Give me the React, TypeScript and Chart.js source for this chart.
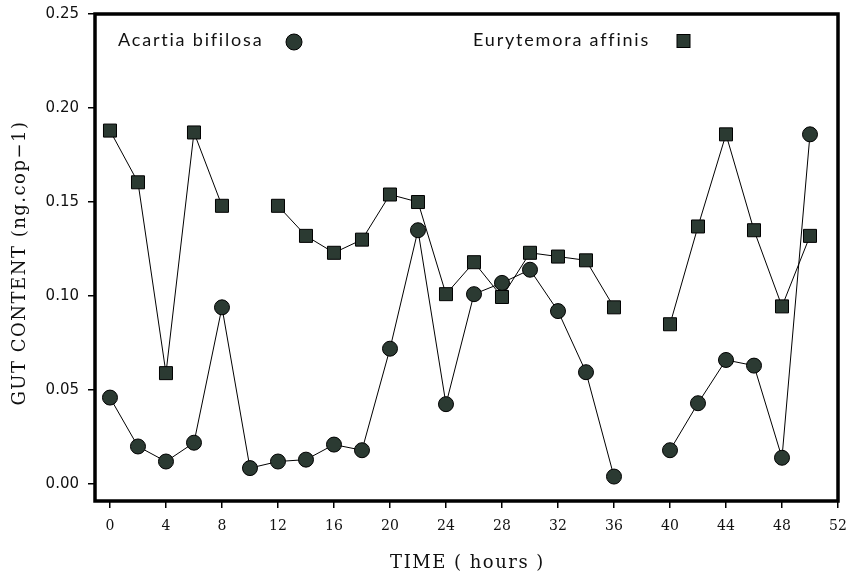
import React, { useEffect, useRef } from "react";
import { Chart, registerables } from "chart.js";

Chart.register(...registerables);

const hours = [0, 2, 4, 6, 8, 10, 12, 14, 16, 18, 20, 22, 24, 26, 28, 30, 32, 34, 36, 38, 40, 42, 44, 46, 48, 50];
const acartia = [0.046, 0.020, 0.012, 0.022, 0.094, 0.0085, 0.012, 0.013, 0.021, 0.018, 0.072, 0.135, 0.0425, 0.101, 0.107, 0.114, 0.092, 0.0595, 0.004, null, 0.018, 0.043, 0.066, 0.063, 0.014, 0.186];
const eurytemora = [0.188, 0.1605, 0.059, 0.187, 0.148, null, 0.148, 0.132, 0.123, 0.130, 0.154, 0.150, 0.101, 0.118, 0.0995, 0.123, 0.121, 0.119, 0.094, null, 0.085, 0.137, 0.186, 0.135, 0.0945, 0.132];
const xTicks = [0, 4, 8, 12, 16, 20, 24, 28, 32, 36, 40, 44, 48, 52];
const yTicks = [0, 0.05, 0.1, 0.15, 0.2, 0.25];
const seriesNames = ["Acartia bifilosa", "Eurytemora affinis"];
const xTitle = "TIME ( hours )";
const yTitle = "GUT CONTENT (ng.cop\u22121)";

const FILL = "#2b3a32";
const SERIF = "'DejaVu Serif', serif";
const SANS = "Lato, 'Noto Sans', sans-serif";
const TICKSANS = "'DejaVu Sans', sans-serif";

const framePlugin = {
  id: "frame",
  afterDraw(chart: any) {
    const { ctx, chartArea } = chart;
    const L = chartArea.left, T = chartArea.top, R = chartArea.right, B = chartArea.bottom;
    ctx.save();
    ctx.strokeStyle = "#000";
    ctx.lineWidth = 3.5;
    ctx.strokeRect(L, T, R - L, B - T);

    // axis titles
    ctx.fillStyle = "#111";
    ctx.font = `18px ${SERIF}`;
    (ctx as any).letterSpacing = "1.5px";
    ctx.textAlign = "center";
    ctx.textBaseline = "alphabetic";
    ctx.fillText(xTitle, (L + R) / 2 + 1, 568);
    ctx.save();
    ctx.translate(25, 263);
    ctx.rotate(-Math.PI / 2);
    ctx.fillText(yTitle, 0, 0);
    ctx.restore();

    // legend
    ctx.font = `400 18px ${SANS}`;
    (ctx as any).letterSpacing = "1.8px";
    ctx.fillStyle = "#111";
    ctx.textAlign = "left";
    ctx.textBaseline = "alphabetic";
    ctx.fillText(seriesNames[0], L + 23, 46);
    ctx.fillText(seriesNames[1], L + 378, 46);
    (ctx as any).letterSpacing = "0px";
    ctx.fillStyle = FILL;
    ctx.strokeStyle = "#000";
    ctx.lineWidth = 1;
    ctx.beginPath();
    ctx.arc(L + 199, 42, 8, 0, Math.PI * 2);
    ctx.fill();
    ctx.stroke();
    ctx.fillRect(L + 582, 34.5, 13, 13);
    ctx.strokeRect(L + 582, 34.5, 13, 13);
    ctx.restore();
  },
};

export default function App() {
  const ref = useRef<HTMLCanvasElement>(null);
  useEffect(() => {
    if (!ref.current) return;
    const chart = new Chart(ref.current, {
      type: "line",
      data: {
        labels: hours,
        datasets: [
          {
            label: seriesNames[0],
            data: hours.map((h, i) => ({ x: h, y: acartia[i] })) as any,
            borderColor: "#000",
            borderWidth: 1,
            pointStyle: "circle",
            pointRadius: 7.5,
            pointBackgroundColor: FILL,
            pointBorderColor: "#000",
            pointBorderWidth: 1,
            spanGaps: false,
            tension: 0,
          },
          {
            label: seriesNames[1],
            data: hours.map((h, i) => ({ x: h, y: eurytemora[i] })) as any,
            borderColor: "#000",
            borderWidth: 1,
            pointStyle: "rect",
            pointRadius: 9.2,
            pointBackgroundColor: FILL,
            pointBorderColor: "#000",
            pointBorderWidth: 1,
            spanGaps: false,
            tension: 0,
          },
        ],
      },
      options: {
        animation: false,
        responsive: true,
        maintainAspectRatio: false,
        layout: { padding: { top: 14, right: 16, left: 0, bottom: 0 } },
        plugins: { legend: { display: false }, tooltip: { enabled: false } },
        scales: {
          x: {
            type: "linear",
            min: -1.07,
            max: 52,
            afterBuildTicks: (s: any) => { s.ticks = xTicks.map((v) => ({ value: v })); },
            afterFit: (s: any) => { s.height = 77; s.paddingLeft = 0; s.paddingRight = 0; },
            grid: { drawOnChartArea: false, drawTicks: true, tickLength: 7, color: "#000", lineWidth: 1.5 },
            border: { display: false },
            ticks: { color: "#111", font: { family: SERIF, size: 14 }, padding: 10, maxRotation: 0, autoSkip: false },
            title: { display: false },
          },
          y: {
            type: "linear",
            min: -0.009,
            max: 0.25,
            afterBuildTicks: (s: any) => { s.ticks = yTicks.map((v) => ({ value: v })); },
            afterFit: (s: any) => { s.width = 95; s.paddingTop = 0; s.paddingBottom = 0; },
            grid: { drawOnChartArea: false, drawTicks: true, tickLength: 7, color: "#000", lineWidth: 1.5 },
            border: { display: false },
            ticks: { color: "#111", font: { family: TICKSANS, size: 15 }, padding: 9, callback: (v: any) => Number(v).toFixed(2) },
            title: { display: false },
          },
        },
      },
      plugins: [framePlugin],
    });
    return () => chart.destroy();
  }, []);
  return (
    <div style={{ position: "fixed", left: 0, top: 0, width: 854, height: 578, background: "#fff" }}>
      <canvas ref={ref} />
    </div>
  );
}
